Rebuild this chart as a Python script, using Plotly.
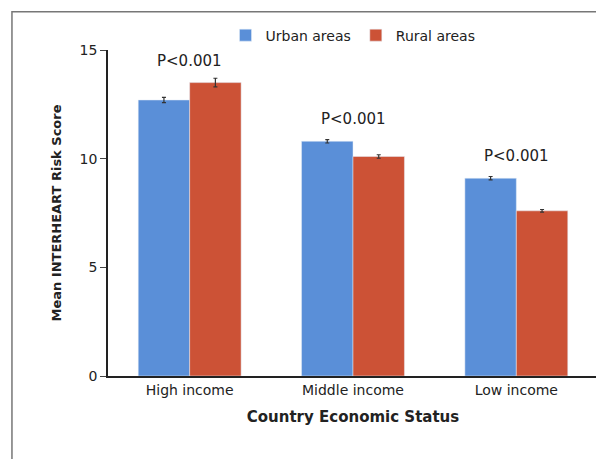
import plotly.graph_objects as go

categories = ["High income", "Middle income", "Low income"]
urban = [12.7, 10.8, 9.1]
rural = [13.5, 10.1, 7.6]
urban_err = [0.12, 0.08, 0.08]
rural_err = [0.2, 0.08, 0.06]
p_labels = ["P<0.001", "P<0.001", "P<0.001"]

fig = go.Figure()
fig.add_trace(go.Bar(x=categories, y=urban, name="Urban areas", marker_color="#5a8fd8",
                     error_y=dict(type="data", array=urban_err, color="#333", thickness=1.2, width=2)))
fig.add_trace(go.Bar(x=categories, y=rural, name="Rural areas", marker_color="#cc5236",
                     error_y=dict(type="data", array=rural_err, color="#333", thickness=1.2, width=2)))

for c, u, r, p in zip(categories, urban, rural, p_labels):
    fig.add_annotation(x=c, y=max(u, r) + 0.5, text=p, showarrow=False, yanchor="bottom",
                       font=dict(size=15, color="#222"))

# outer frame of the figure
fig.add_shape(type="rect", xref="paper", yref="paper", x0=-0.196, x1=1.02, y0=-0.267, y1=1.117,
              line=dict(color="#777", width=1.5), layer="above")

fig.update_layout(
    width=604, height=459,
    margin=dict(l=100, r=14, t=42, b=91, autoexpand=False),
    paper_bgcolor="white", plot_bgcolor="white",
    font=dict(family="DejaVu Sans", size=14, color="#222"),
    bargap=0.37, bargroupgap=0,
    showlegend=True,
    legend=dict(orientation="h", x=0.5, xanchor="center", yref="container", y=0.94,
                yanchor="middle", bgcolor="rgba(0,0,0,0)", font=dict(size=14)),
)
fig.update_xaxes(showline=True, linecolor="#222", linewidth=1.5, ticks="",
                 title=dict(text="<b>Country Economic Status</b>", font=dict(size=15)))
fig.update_yaxes(range=[0, 15], tickvals=[0, 5, 10, 15], showline=True, linecolor="#222",
                 linewidth=1.5, ticks="outside", ticklen=6, showgrid=False, zeroline=False,
                 title=dict(text="<b>Mean INTERHEART Risk Score</b>", font=dict(size=13)))

fig.write_html("out.html")
